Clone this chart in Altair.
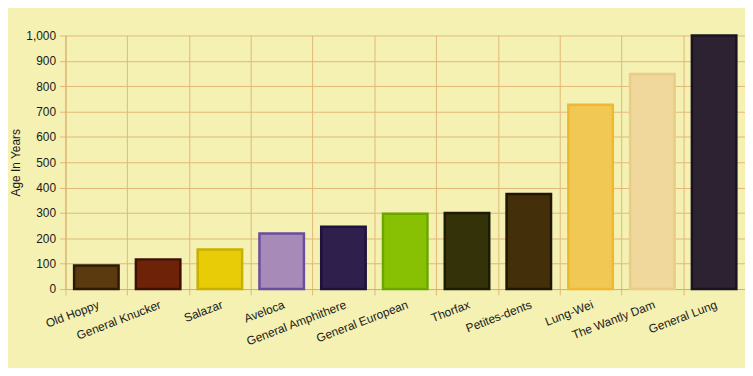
import altair as alt
import pandas as pd

names = ["Old Hoppy", "General Knucker", "Salazar", "Aveloca", "General Amphithere",
         "General European", "Thorfax", "Petites-dents", "Lung-Wei", "The Wantly Dam",
         "General Lung"]
ages = [93, 117, 156, 219, 246, 297, 300, 375, 727, 848, 1000]
fills = ["#5c3a10", "#6e2208", "#e8cc08", "#a88ab8", "#2f1f4c", "#88c004",
         "#333208", "#43300a", "#f2c855", "#f0d89c", "#2c2232"]
strokes = ["#2e1a04", "#3e1004", "#c8b000", "#6a4ca0", "#1e123a", "#6aa800",
           "#1c1c02", "#221602", "#f0b830", "#e8cc88", "#1a1420"]

df = pd.DataFrame({"name": names, "age": ages})

grid_col = "#e2b878"
W = 686
step = W / len(names)
shift = 0.14 * step

chart = alt.Chart(df).mark_bar(strokeWidth=2.5).encode(
    x=alt.X("name:N", sort=names, title=None,
            scale=alt.Scale(paddingInner=0.28, paddingOuter=0.14),
            axis=alt.Axis(bandPosition=0, tickOffset=-shift, labelOffset=shift,
                          grid=True, gridColor=grid_col, gridWidth=1,
                          labelAngle=-21, labelAlign="right", labelBaseline="top",
                          labelPadding=4, labelFontSize=12,
                          labelFont="Liberation Sans", labelColor="#1a1a1a",
                          tickColor=grid_col, tickSize=6, domainColor="#d8b070")),
    y=alt.Y("age:Q", title="Age In Years",
            scale=alt.Scale(domain=[0, 1000], nice=False),
            axis=alt.Axis(values=list(range(0, 1001, 100)), format=",d",
                          grid=True, gridColor=grid_col, gridWidth=1,
                          labelFontSize=12, labelFont="Liberation Sans", labelColor="#1a1a1a",
                          labelFontWeight="normal", titleFontWeight="normal",
                          titleFont="Liberation Sans", titleFontSize=12, titleColor="#1a1a1a",
                          titleX=-50, titleBaseline="middle", labelPadding=4,
                          tickColor=grid_col, tickSize=6, domainColor="#d8b070")),
    color=alt.Color("name:N", scale=alt.Scale(domain=names, range=fills), legend=None),
    stroke=alt.Stroke("name:N", scale=alt.Scale(domain=names, range=strokes), legend=None),
).properties(
    width=W, height=256,
    background="#f4f1b2",
    padding={"left": 58, "top": 26, "right": 0, "bottom": 78},
    autosize=alt.AutoSizeParams(type="none"),
).configure_view(stroke=None)

chart.save("out.html", embed_options={"renderer": "svg", "actions": False})
